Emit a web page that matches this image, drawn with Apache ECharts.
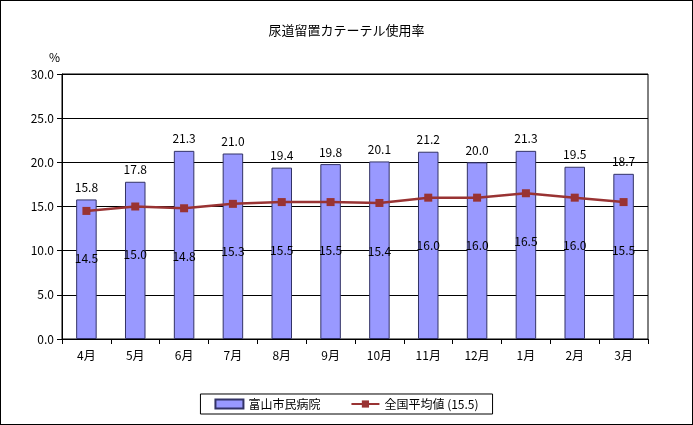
<!DOCTYPE html>
<html><head><meta charset="utf-8">
<script src="https://cdn.jsdelivr.net/npm/echarts@6/dist/echarts.min.js"></script>
<style>html,body{margin:0;padding:0;background:#fff}#c{width:693px;height:425px;box-sizing:border-box;border:1px solid #000}</style>
</head><body><div id="c"></div>
<script>
const categories=['4月','5月','6月','7月','8月','9月','10月','11月','12月','1月','2月','3月'];
const hospital=[15.8,17.8,21.3,21.0,19.4,19.8,20.1,21.2,20.0,21.3,19.5,18.7];
const national=[14.5,15.0,14.8,15.3,15.5,15.5,15.4,16.0,16.0,16.5,16.0,15.5];
const yTicks={min:0,max:30,interval:5};
const font='"Noto Sans CJK JP", sans-serif';
const chart=echarts.init(document.getElementById('c'));
chart.setOption({
 animation:false,
 textStyle:{fontFamily:font,color:'#000'},
 title:{text:'尿道留置カテーテル使用率',left:'center',top:18,textStyle:{fontSize:13,fontWeight:'normal',color:'#000',fontFamily:font}},
 graphic:[{type:'text',left:48,top:50,style:{text:'%',fontSize:12,fill:'#000',fontFamily:font}}],
 legend:{bottom:10,left:'center',itemGap:30,borderColor:'#000',borderWidth:1,padding:[4,14],textStyle:{fontSize:12,color:'#000'},
  data:[{name:'富山市民病院',icon:'rect'},{name:'全国平均値 (15.5)'}],itemWidth:28,itemHeight:9},
 grid:{left:61,right:44,top:73,bottom:85,show:true,borderColor:'#000',borderWidth:1},
 xAxis:{type:'category',data:categories,axisLine:{lineStyle:{color:'#000'}},axisTick:{show:true,lineStyle:{color:'#000'}},axisLabel:{color:'#000',fontSize:12,margin:10}},
 yAxis:{type:'value',min:yTicks.min,max:yTicks.max,interval:yTicks.interval,axisLine:{show:true,lineStyle:{color:'#000'}},axisTick:{show:true,lineStyle:{color:'#000'}},
  splitLine:{lineStyle:{color:'#000'}},axisLabel:{color:'#000',fontSize:12,formatter:v=>v.toFixed(1)}},
 series:[
  {name:'富山市民病院',type:'bar',data:hospital,barWidth:'42%',itemStyle:{color:'#9999FF',borderColor:'#333366',borderWidth:1},
   label:{show:true,position:'top',distance:6,fontSize:12,color:'#000',formatter:p=>p.value.toFixed(1)}},
  {name:'全国平均値 (15.5)',type:'line',data:national,symbol:'rect',symbolSize:8,lineStyle:{color:'#993333',width:2.5},itemStyle:{color:'#993333'},
   label:{show:true,position:'bottom',distance:38,fontSize:12,color:'#000',formatter:p=>p.value.toFixed(1)}}
 ]
});
</script></body></html>
